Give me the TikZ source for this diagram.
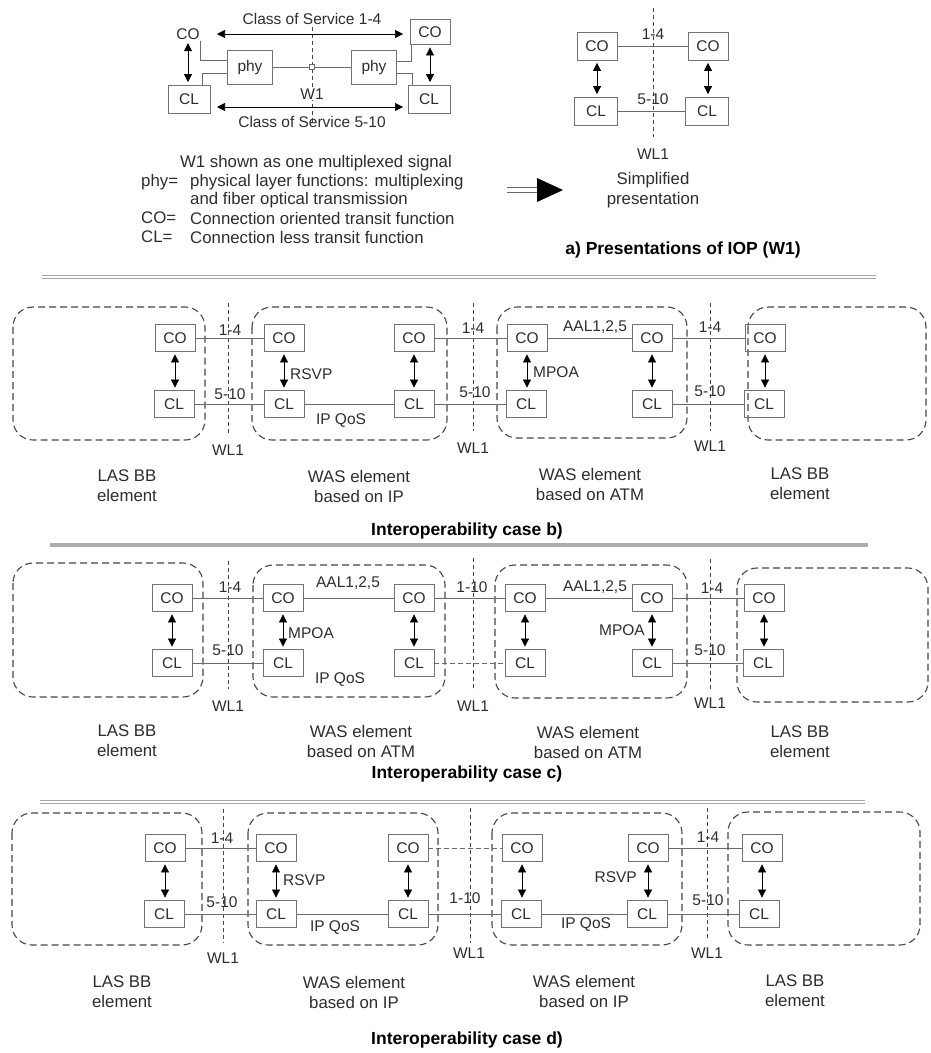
\documentclass[tikz,border=0pt]{standalone}
\usepackage{fontspec}
\setmainfont{Liberation Sans}
\usetikzlibrary{arrows.meta}
\definecolor{boxc}{gray}{0.45}
\definecolor{txtc}{gray}{0.18}
\definecolor{linec}{gray}{0.42}
\definecolor{grpc}{gray}{0.28}
\newcommand\fntA{\fontsize{15.5}{18}\selectfont}
\newcommand\fntB{\fontsize{16.8}{20}\selectfont}
\newcommand\fntT{\fontsize{17.5}{20}\selectfont\bfseries}
\tikzset{
 fb/.style={draw=boxc, line width=0.8pt, minimum width=40pt, minimum height=27pt, inner sep=0pt, font=\fntA, text=txtc},
 grp/.style={draw=grpc, line width=1.1pt, dash pattern=on 7pt off 4pt, rounded corners=20pt},
 wl/.style={draw=grpc, line width=0.9pt, dash pattern=on 4pt off 3pt},
 link/.style={draw=linec, line width=0.6pt},
 dlink/.style={draw=linec, line width=0.6pt, dash pattern=on 5pt off 3pt},
 harr/.style={draw=black, line width=0.7pt, {Triangle[width=8pt,length=8pt]}-{Triangle[width=8pt,length=8pt]}},
 varr/.style={harr, shorten <=2.5pt, shorten >=2.5pt},
 lab/.style={font=\fntA, text=txtc, inner sep=1pt},
 leg/.style={font=\fntB, text=txtc, inner sep=0pt, anchor=west},
 captxt/.style={font=\fntB, text=txtc, align=center, inner sep=0pt},
 ttl/.style={font=\fntT, text=black, inner sep=0pt},
}
\begin{document}
\begin{tikzpicture}[x=1pt,y=-1pt]
\useasboundingbox[fill=white] (0,0) rectangle (931,1053);

% ================= a) left diagram =================
\draw[wl] (312,27) -- (312,124);
\node[lab] (aco1) at (188,34) {CO};
\node[fb, minimum width=42pt, minimum height=28pt] (acl1) at (189,99) {CL};
\node[fb, minimum width=45pt, minimum height=34pt] (aphy1) at (250,67) {phy};
\node[fb, minimum width=45pt, minimum height=34pt] (aphy2) at (374,67) {phy};
\node[fb, minimum height=25pt] (aco2) at (430,32) {CO};
\node[fb, minimum width=42pt, minimum height=28pt] (acl2) at (429,99) {CL};
\node[draw=linec, fill=white, line width=0.5pt, minimum size=5pt, inner sep=0pt] (asq) at (312,67) {};
\draw[link] (aphy1) -- (asq) -- (aphy2);
\node[lab, fill=white] (aw1) at (312,94) {W1};
\node[lab] (acs1) at (312,19) {Class of Service 1-4};
\node[lab] (acs2) at (312,122) {Class of Service 5-10};
\coordinate (at1) at (217,34); \coordinate (at2) at (403,34);
\coordinate (ab1) at (217,107); \coordinate (ab2) at (403,107);
\draw[harr] (at1) -- (at2);
\draw[harr] (ab1) -- (ab2);
\draw[varr] (aco1.south) -- (aco1.south |- acl1.north);
\draw[varr] (aco2.south) -- (aco2.south |- acl2.north);
\draw[link] ([xshift=-1pt]aco1.south east) |- ([yshift=7pt]aphy1.west);
\draw[link] ([xshift=-8pt]acl1.north east) |- ([yshift=-6pt]aphy1.west);
\draw[link] ([yshift=6pt]aphy2.east) -| ([xshift=2pt]aco2.south west);
\draw[link] ([yshift=-6pt]aphy2.east) -| ([xshift=5pt]acl2.north west);

% legend
\node[font=\fntB, text=txtc, inner sep=0pt] (lg0) at (316,163) {W1 shown as one multiplexed signal};
\node[leg] (lg1a) at (141,182) {phy=};
\node[leg] (lg1b) at (190,182) {physical layer functions: multiplexing};
\node[leg] (lg2b) at (190,200) {and fiber optical transmission};
\node[leg] (lg3a) at (141,218) {CO=};
\node[leg] (lg3b) at (190,218) {Connection oriented transit function};
\node[leg] (lg4a) at (141,237) {CL=};
\node[leg] (lg4b) at (190,237) {Connection less transit function};

% ================= a) right diagram =================
\draw[wl] (653,8) -- (653,137);
\node[fb, minimum height=28pt] (rco1) at (597,46) {CO};
\node[fb, minimum height=28pt] (rco2) at (708,46) {CO};
\node[fb, minimum width=43pt, minimum height=28pt] (rcl1) at (596,111) {CL};
\node[fb, minimum width=43pt, minimum height=28pt] (rcl2) at (707,111) {CL};
\draw[link] (rco1) -- (rco2);
\draw[link] (rcl1) -- (rcl2);
\node[lab] (r14) at (653,34) {1-4};
\node[lab] (r510) at (653,99) {5-10};
\draw[varr] (rco1.south) -- (rco1.south |- rcl1.north);
\draw[varr] (rco2.south) -- (rco2.south |- rcl2.north);
\node[lab] (rwl) at (653,154) {WL1};
\node[captxt] (rsimp) at (653,190) {Simplified\\presentation};
\draw[linec, line width=0.8pt] (507,187.5) -- (540,187.5);
\draw[linec, line width=0.8pt] (507,192.5) -- (540,192.5);
\fill[black] (537,178) -- (563,190) -- (537,202) -- cycle;
\node[ttl] (atitle) at (683,250) {a) Presentations of IOP (W1)};

% separators
\draw[gray!70, line width=1pt, double=white, double distance=2.5pt] (42,277) -- (876,277);
\draw[gray!65, line width=3.5pt] (50,545) -- (868,545);
\draw[gray!70, line width=1pt, double=white, double distance=2.5pt] (40,802) -- (865,802);

% ================= case b) =================
\draw[grp] (13,307) rectangle (205,440);
\draw[grp] (252,307) rectangle (447,440);
\draw[grp] (497,307) rectangle (687,438);
\draw[grp] (748,307) rectangle (926,440);
\draw[wl] (228,303) -- (228,434);
\draw[wl] (473,303) -- (473,431);
\draw[wl] (710,303) -- (710,431);
\node[fb] (bcoL) at (175,338) {CO};
\node[fb] (bclL) at (174,404) {CL};
\node[fb] (bcoA) at (284,338) {CO};
\node[fb] (bclA) at (284,404) {CL};
\node[fb] (bcoB) at (414,338) {CO};
\node[fb] (bclB) at (414,404) {CL};
\node[fb] (bcoC) at (527,338) {CO};
\node[fb] (bclC) at (526,404) {CL};
\node[fb] (bcoD) at (652,338) {CO};
\node[fb] (bclD) at (652,404) {CL};
\node[fb] (bcoE) at (765,338) {CO};
\node[fb] (bclE) at (764,404) {CL};
\foreach \p in {L,A,B,C,D,E}{\draw[varr] (bco\p.south) -- (bco\p.south |- bcl\p.north);}
\draw[link] (bcoL) -- (bcoA);
\draw[link] (bclL) -- (bclA);
\draw[link] (bclA) -- (bclB);
\draw[link] (bcoB) -- (bcoC);
\draw[link] (bclB) -- (bclC);
\draw[link] (bcoC) -- (bcoD);
\draw[link] (bcoD) -- (bcoE);
\draw[link] (bclD) -- (bclE);
\node[lab] (b14a) at (230,330) {1-4};
\node[lab] (b510a) at (230,394) {5-10};
\node[lab] (b14b) at (473,328) {1-4};
\node[lab] (b510b) at (475,392) {5-10};
\node[lab] (b14c) at (710,327) {1-4};
\node[lab] (b510c) at (710,391) {5-10};
\node[lab, anchor=west] (brsvp) at (289,374) {RSVP};
\node[lab] (bqos) at (341,421) {IP QoS};
\node[lab, anchor=west] (bmpoa) at (532,372) {MPOA};
\node[lab] (baal) at (595,327) {AAL1,2,5};
\node[lab] (bwl1) at (228,450) {WL1};
\node[lab] (bwl2) at (473,448) {WL1};
\node[lab] (bwl3) at (710,446) {WL1};
\node[captxt] (bcap1) at (127,486) {LAS BB\\element};
\node[captxt] (bcap2) at (359,486) {WAS element\\based on IP};
\node[captxt] (bcap3) at (590,484) {WAS element\\based on ATM};
\node[captxt] (bcap4) at (800,484) {LAS BB\\element};
\node[ttl] (btitle) at (467,531) {Interoperability case b)};

% ================= case c) =================
\draw[grp] (13,563) rectangle (203,697);
\draw[grp] (253,565) rectangle (445,697);
\draw[grp] (495,565) rectangle (687,698);
\draw[grp] (737,568) rectangle (928,702);
\draw[wl] (228,561) -- (228,689);
\draw[wl] (473,558) -- (473,691);
\draw[wl] (710,559) -- (710,690);
\node[fb] (ccoL) at (172,598) {CO};
\node[fb] (cclL) at (172,663) {CL};
\node[fb] (ccoA) at (283,598) {CO};
\node[fb] (cclA) at (283,663) {CL};
\node[fb] (ccoB) at (414,598) {CO};
\node[fb] (cclB) at (414,663) {CL};
\node[fb] (ccoC) at (525,598) {CO};
\node[fb] (cclC) at (525,663) {CL};
\node[fb] (ccoD) at (652,598) {CO};
\node[fb] (cclD) at (652,663) {CL};
\node[fb] (ccoE) at (764,598) {CO};
\node[fb] (cclE) at (763,663) {CL};
\foreach \p in {L,A,B,C,D,E}{\draw[varr] (cco\p.south) -- (cco\p.south |- ccl\p.north);}
\draw[link] (ccoL) -- (ccoA);
\draw[link] (cclL) -- (cclA);
\draw[link] (ccoA) -- (ccoB);
\draw[link] (ccoB) -- (ccoC);
\draw[dlink] (cclB) -- (cclC);
\draw[link] (ccoC) -- (ccoD);
\draw[link] (ccoD) -- (ccoE);
\draw[link] (cclD) -- (cclE);
\node[lab] (c14a) at (230,587) {1-4};
\node[lab] (c510a) at (228,650) {5-10};
\node[lab] (c110) at (472,587) {1-10};
\node[lab] (c14c) at (712,588) {1-4};
\node[lab] (c510c) at (710,650) {5-10};
\node[lab, anchor=west] (cmpoa1) at (287,633) {MPOA};
\node[lab] (caal1) at (348,583) {AAL1,2,5};
\node[lab] (cqos) at (340,680) {IP QoS};
\node[lab] (caal2) at (595,587) {AAL1,2,5};
\node[lab, anchor=east] (cmpoa2) at (646,630) {MPOA};
\node[lab] (cwl1) at (228,706) {WL1};
\node[lab] (cwl2) at (473,706) {WL1};
\node[lab] (cwl3) at (710,703) {WL1};
\node[captxt] (ccap1) at (127,741) {LAS BB\\element};
\node[captxt] (ccap2) at (361,741) {WAS element\\based on ATM};
\node[captxt] (ccap3) at (588,742) {WAS element\\based on ATM};
\node[captxt] (ccap4) at (800,742) {LAS BB\\element};
\node[ttl] (ctitle) at (467,774) {Interoperability case c)};

% ================= case d) =================
\draw[grp] (12,813) rectangle (202,945);
\draw[grp] (248,813) rectangle (438,945);
\draw[grp] (492,813) rectangle (682,945);
\draw[grp] (728,812) rectangle (920,945);
\draw[wl] (223,809) -- (223,943);
\draw[wl] (470,808) -- (470,943);
\draw[wl] (707,808) -- (707,939);
\node[fb] (dcoL) at (165,848) {CO};
\node[fb] (dclL) at (164,914) {CL};
\node[fb] (dcoA) at (276,848) {CO};
\node[fb] (dclA) at (276,914) {CL};
\node[fb] (dcoB) at (408,848) {CO};
\node[fb] (dclB) at (408,914) {CL};
\node[fb] (dcoC) at (522,848) {CO};
\node[fb] (dclC) at (521,914) {CL};
\node[fb] (dcoD) at (648,848) {CO};
\node[fb] (dclD) at (647,914) {CL};
\node[fb] (dcoE) at (762,848) {CO};
\node[fb] (dclE) at (759,914) {CL};
\foreach \p in {L,A,B,C,D,E}{\draw[varr] (dco\p.south) -- (dco\p.south |- dcl\p.north);}
\draw[link] (dcoL) -- (dcoA);
\draw[link] (dclL) -- (dclA);
\draw[link] (dclA) -- (dclB);
\draw[dlink] (dcoB) -- (dcoC);
\draw[link] (dclB) -- (dclC);
\draw[link] (dclC) -- (dclD);
\draw[link] (dcoD) -- (dcoE);
\draw[link] (dclD) -- (dclE);
\node[lab] (d14a) at (222,838) {1-4};
\node[lab] (d510a) at (222,902) {5-10};
\node[lab] (d110) at (465,898) {1-10};
\node[lab] (d14c) at (708,837) {1-4};
\node[lab] (d510c) at (708,900) {5-10};
\node[lab, anchor=west] (drsvp1) at (282,880) {RSVP};
\node[lab] (dqos1) at (335,928) {IP QoS};
\node[lab, anchor=east] (drsvp2) at (638,877) {RSVP};
\node[lab] (dqos2) at (586,925) {IP QoS};
\node[lab] (dwl1) at (223,958) {WL1};
\node[lab] (dwl2) at (469,953) {WL1};
\node[lab] (dwl3) at (707,953) {WL1};
\node[captxt] (dcap1) at (122,992) {LAS BB\\element};
\node[captxt] (dcap2) at (354,992) {WAS element\\based on IP};
\node[captxt] (dcap3) at (584,991) {WAS element\\based on IP};
\node[captxt] (dcap4) at (795,991) {LAS BB\\element};
\node[ttl] (dtitle) at (467,1040) {Interoperability case d)};
\end{tikzpicture}
\end{document}
